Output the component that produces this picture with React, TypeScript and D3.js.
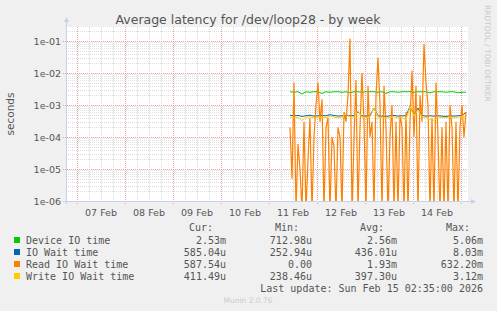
import React from 'react';
import * as d3 from 'd3';

const W = 497;
const H = 311;

// data start / step
const seriesStart = Date.UTC(2026, 1, 11, 10, 30);
const HOUR = 3600 * 1000;

// read IO wait, hourly samples (seconds, 0 = drops below the axis)
const readWait = [
  2e-4, 5e-6, 5e-3, 0, 6e-5, 1e-5, 0, 3e-4, 0, 2e-5,
  4e-4, 0, 1e-4, 1e-3, 5e-3, 3e-4, 1.5e-3, 0, 2e-4, 4e-4,
  0, 1e-4, 5e-5, 0, 2e-4, 1e-4, 0, 6e-4, 3e-4, 2e-3,
  0.12, 0, 8e-5, 6e-3, 0, 2e-4, 1e-2, 3e-4, 0, 4e-3,
  1e-4, 3e-4, 0, 2e-3, 3e-2, 1e-3, 0, 4e-3, 2e-4, 0,
  1e-4, 1e-3, 0, 3e-4, 0, 5e-4, 2e-4, 0, 6e-4, 0,
  3e-4, 0.012, 1e-4, 4e-3, 0, 2e-3, 3e-4, 0.08, 5e-3, 1e-3,
  0, 4e-4, 0, 5e-3, 1e-4, 0, 2e-4, 0, 3e-4, 0,
  1e-3, 2e-4, 0, 3e-4, 0, 2e-4, 1e-3, 1e-4, 6e-4,
];

// two-hourly samples
const deviceIo = [
  2.6e-3, 2.5e-3, 2.6e-3, 2.2e-3, 2.6e-3, 2.5e-3, 2.6e-3, 2.6e-3, 2.3e-3, 2.6e-3,
  2.5e-3, 2.6e-3, 2.6e-3, 2.5e-3, 2.6e-3, 2.4e-3, 2.6e-3, 2.6e-3, 2.5e-3, 2.6e-3,
  2.6e-3, 2.6e-3, 2.5e-3, 2.6e-3, 2.3e-3, 2.6e-3, 2.6e-3, 2.5e-3, 2.6e-3, 2.6e-3,
  2.6e-3, 2.5e-3, 2.6e-3, 2.6e-3, 2.6e-3, 2.4e-3, 2.6e-3, 2.6e-3, 2.6e-3, 2.5e-3,
  2.6e-3, 2.6e-3, 2.4e-3, 2.5e-3, 2.5e-3,
];
const ioWait = [
  4.8e-4, 4.6e-4, 4.7e-4, 4.4e-4, 4.6e-4, 4.8e-4, 4.5e-4, 4.6e-4, 4.7e-4, 4.6e-4,
  5.0e-4, 4.7e-4, 4.5e-4, 4.6e-4, 4.8e-4, 4.6e-4, 4.7e-4, 6e-4, 4.6e-4, 4.5e-4,
  4.7e-4, 8e-4, 4.6e-4, 4.5e-4, 4.4e-4, 4.6e-4, 4.7e-4, 4.5e-4, 4.6e-4, 4.6e-4,
  9e-4, 5.0e-4, 8e-4, 4.7e-4, 4.5e-4, 4.6e-4, 4.5e-4, 4.6e-4, 4.5e-4, 4.4e-4,
  4.6e-4, 4.5e-4, 4.6e-4, 4.7e-4, 5.9e-4,
];
const writeWait = [
  4.2e-4, 4.0e-4, 4.1e-4, 3.3e-4, 4.1e-4, 4.3e-4, 4.0e-4, 4.2e-4, 4.1e-4, 4.0e-4,
  4.6e-4, 4.2e-4, 3.9e-4, 4.2e-4, 5.5e-4, 4.1e-4, 4.3e-4, 6.5e-4, 4.1e-4, 4.0e-4,
  4.2e-4, 8e-4, 4.2e-4, 4.0e-4, 3.8e-4, 4.2e-4, 4.3e-4, 3.9e-4, 4.1e-4, 3.4e-4,
  9e-4, 4.5e-4, 7e-4, 4.2e-4, 4.1e-4, 3.5e-4, 3.3e-4, 4.2e-4, 4.1e-4, 4.0e-4,
  4.2e-4, 3.9e-4, 4.2e-4, 4.3e-4, 4.1e-4,
];

const dayLabels = ['07 Feb', '08 Feb', '09 Feb', '10 Feb', '11 Feb', '12 Feb', '13 Feb', '14 Feb'];
const yTickLabels = ['1e-01', '1e-02', '1e-03', '1e-04', '1e-05', '1e-06'];
const yTickValues = [1e-1, 1e-2, 1e-3, 1e-4, 1e-5, 1e-6];

const legendNames = ['Device IO time', 'IO Wait time', 'Read IO Wait time', 'Write IO Wait time'];
const legendColors = ['#00cc00', '#0066b3', '#ff8000', '#ffcc00'];
const legendCur = ['2.53m', '585.04u', '587.54u', '411.49u'];
const legendMin = ['712.98u', '252.94u', '0.00', '238.46u'];
const legendAvg = ['2.56m', '436.01u', '1.93m', '397.30u'];
const legendMax = ['5.06m', '8.03m', '632.20m', '3.12m'];

const left = 66, right = 467, top = 27, bottom = 201;

export default function App() {
  const x = d3.scaleUtc()
    .domain([new Date(Date.UTC(2026, 1, 6, 18, 30)), new Date(Date.UTC(2026, 1, 15, 3, 0))])
    .range([left, right]);
  const y = d3.scaleLog()
    .domain([1e-6, Math.pow(10, -0.5625)])
    .range([bottom, top]);

  const mk = (vals: number[], step: number) =>
    vals.map((v, i) => ({ t: new Date(seriesStart + i * step * HOUR), v }));

  const line = d3.line<{ t: Date; v: number }>()
    .x(d => x(d.t))
    .y(d => (d.v > 0 ? y(d.v) : bottom + 10));

  const series = [
    { data: mk(deviceIo, 2), color: legendColors[0] },
    { data: mk(ioWait, 2), color: legendColors[1] },
    { data: mk(readWait, 1), color: legendColors[2] },
    { data: mk(writeWait, 2), color: legendColors[3] },
  ];

  // grid
  const minorY: number[] = [];
  for (let e = -6; e <= -1; e++) {
    for (let m = 2; m <= 9; m++) {
      const v = m * Math.pow(10, e);
      if (y(v) >= top) minorY.push(v);
    }
  }
  const sixHours = d3.utcHour.every(6)!.range(x.domain()[0], x.domain()[1]);
  const days = d3.utcDay.range(x.domain()[0], x.domain()[1]);

  const mono = 'DejaVu Sans Mono, monospace';
  const sans = 'DejaVu Sans, sans-serif';
  const rows = [240, 252, 264, 276];

  return (
    <svg width={W} height={H} style={{ position: 'absolute', left: 0, top: 0 }}>
      <rect width={W} height={H} fill="#f0f0f0" />
      <rect x={left} y={top} width={right - left + 1} height={bottom - top} fill="#ffffff" />
      <defs>
        <clipPath id="plot">
          <rect x={left} y={top} width={right - left + 1} height={bottom - top} />
        </clipPath>
      </defs>

      {sixHours.map((d, i) => (
        <line key={'vx' + i} x1={x(d) + 0.5} x2={x(d) + 0.5} y1={top} y2={bottom}
          stroke="#d6d6d6" strokeDasharray="1,1" />
      ))}
      {minorY.map((v, i) => (
        <line key={'hy' + i} x1={left} x2={right} y1={Math.round(y(v)) + 0.5} y2={Math.round(y(v)) + 0.5}
          stroke="#dedede" strokeDasharray="1,1" />
      ))}
      {days.map((d, i) => (
        <line key={'dx' + i} x1={x(d) + 0.5} x2={x(d) + 0.5} y1={top} y2={bottom + 3}
          stroke="#e8a0a0" strokeDasharray="1,1" />
      ))}
      {yTickValues.map((v, i) => (
        <line key={'my' + i} x1={left - 3} x2={right} y1={Math.round(y(v)) + 0.5} y2={Math.round(y(v)) + 0.5}
          stroke="#e8a0a0" strokeDasharray="1,1" />
      ))}

      <g clipPath="url(#plot)">
        {series.map((s, i) => (
          <path key={'s' + i} d={line(s.data) ?? ''} fill="none" stroke={s.color}
            strokeWidth={i === 2 ? 1.2 : 1} />
        ))}
      </g>

      {/* axes */}
      <line x1={left + 0.5} x2={left + 0.5} y1={bottom + 3} y2={top - 6} stroke="#c8d0f0" />
      <path d={`M${left - 2},${top - 5} L${left + 3},${top - 5} L${left + 0.5},${top - 10} Z`} fill="#c8d0f0" />
      <line x1={left - 3} x2={right + 5} y1={bottom + 0.5} y2={bottom + 0.5} stroke="#c8d0f0" />
      <path d={`M${right + 4},${bottom - 2} L${right + 4},${bottom + 3} L${right + 9},${bottom + 0.5} Z`} fill="#c8d0f0" />

      {yTickValues.map((v, i) => (
        <text key={'yl' + i} x={61} y={y(v) + 3.5} textAnchor="end" fontFamily={sans} fontSize={9.5} fill="#555">
          {yTickLabels[i]}
        </text>
      ))}
      {dayLabels.map((lab, i) => (
        <text key={'xl' + i} x={x(new Date(Date.UTC(2026, 1, 7 + i, 12)))} y={216} textAnchor="middle"
          fontFamily={sans} fontSize={9.5} fill="#555">
          {lab}
        </text>
      ))}

      <text x={248} y={24} textAnchor="middle" fontFamily={sans} fontSize={12.5} fill="#555">
        Average latency for /dev/loop28 - by week
      </text>
      <text transform="translate(14,114) rotate(-90)" textAnchor="middle" fontFamily={sans} fontSize={10.5} fill="#555">
        seconds
      </text>
      <text transform="translate(485,5) rotate(90)" textAnchor="start" fontFamily={sans} fontSize={7.5} fill="#c8c8c8">
        RRDTOOL / TOBI OETIKER
      </text>

      {/* legend */}
      <g fontFamily={mono} fontSize={10} fill="#555">
        <text x={213} y={231} textAnchor="end">Cur:</text>
        <text x={299} y={231} textAnchor="end">Min:</text>
        <text x={384} y={231} textAnchor="end">Avg:</text>
        <text x={470} y={231} textAnchor="end">Max:</text>
        {legendNames.map((n, i) => (
          <g key={'lg' + i}>
            <rect x={14} y={rows[i] - 3} width={6} height={6} fill={legendColors[i]} />
            <text x={26} y={rows[i] + 3.5}>{n}</text>
            <text x={226} y={rows[i] + 3.5} textAnchor="end">{legendCur[i]}</text>
            <text x={312} y={rows[i] + 3.5} textAnchor="end">{legendMin[i]}</text>
            <text x={397} y={rows[i] + 3.5} textAnchor="end">{legendAvg[i]}</text>
            <text x={483} y={rows[i] + 3.5} textAnchor="end">{legendMax[i]}</text>
          </g>
        ))}
        <text x={483} y={291.5} textAnchor="end">Last update: Sun Feb 15 02:35:00 2026</text>
      </g>
      <text x={248} y={303} textAnchor="middle" fontFamily={sans} fontSize={7.5} fill="#cccccc">
        Munin 2.0.76
      </text>
    </svg>
  );
}
